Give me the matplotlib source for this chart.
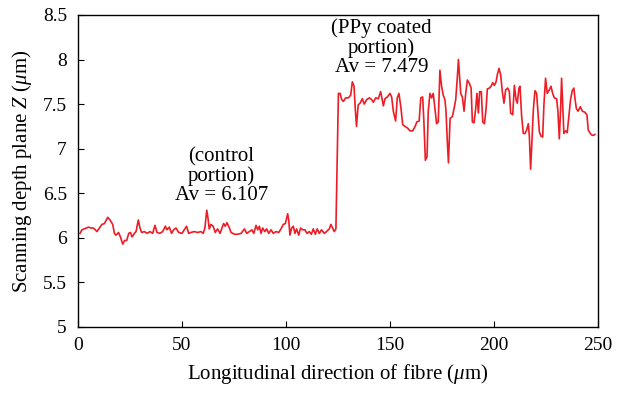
import matplotlib.pyplot as plt

plt.rcParams['font.family'] = 'Liberation Serif'
plt.rcParams['mathtext.fontset'] = 'custom'
plt.rcParams['mathtext.rm'] = 'Liberation Serif'
plt.rcParams['mathtext.it'] = 'Liberation Serif:italic'

# control portion (0 - 124 um)
x_ctrl = [1.0, 1.9, 3.0, 4.2, 5.1, 6.2, 7.4, 8.3, 9.1, 10.3, 11.5, 12.7, 14.3, 15.4, 16.7,
          17.5, 18.3, 19.5, 20.4, 21.5, 22.4, 23.4, 24.4, 25.2, 26.0, 27.1, 27.9, 29.0, 29.8,
          30.6, 31.9, 33.2, 34.6, 35.9, 37.0, 38.0, 39.4, 40.7, 42.0, 42.8, 43.9, 45.0, 46.0,
          47.1, 48.4, 50.0, 51.1, 52.2, 53.2, 54.3, 55.9, 57.5, 59.1, 60.2, 61.0, 61.9, 62.5,
          63.1, 63.9, 65.0, 66.0, 67.1, 68.3, 69.2, 70.0, 70.8, 71.6, 72.8, 73.6, 75.2, 76.7,
          78.4, 80.0, 81.1, 82.4, 83.6, 84.5, 85.6, 86.4, 87.2, 88.0, 88.8, 89.8, 90.7, 91.7,
          92.8, 93.9, 95.2, 96.5, 97.6, 98.7, 99.7, 100.8, 101.3, 101.9, 102.7, 103.5, 104.3,
          105.1, 106.1, 107.0, 108.0, 109.1, 110.1, 111.2, 112.2, 113.1, 114.1, 115.0, 116.0,
          117.1, 118.4, 119.5, 120.8, 121.6, 122.4, 123.2, 124.0]
z_ctrl = [6.05, 6.09, 6.10, 6.11, 6.12, 6.11, 6.11, 6.09, 6.07, 6.11, 6.15, 6.16, 6.23, 6.20, 6.15,
          6.05, 6.03, 6.06, 6.01, 5.93, 5.97, 5.97, 6.05, 6.06, 6.01, 6.05, 6.07, 6.20, 6.11,
          6.06, 6.07, 6.05, 6.07, 6.05, 6.14, 6.06, 6.05, 6.07, 6.13, 6.09, 6.12, 6.05, 6.09,
          6.11, 6.06, 6.05, 6.09, 6.13, 6.05, 6.06, 6.07, 6.06, 6.07, 6.05, 6.11, 6.31, 6.22,
          6.10, 6.15, 6.13, 6.06, 6.10, 6.05, 6.11, 6.16, 6.13, 6.17, 6.11, 6.06, 6.04, 6.04,
          6.05, 6.10, 6.05, 6.07, 6.09, 6.05, 6.14, 6.09, 6.13, 6.05, 6.11, 6.07, 6.10, 6.05,
          6.09, 6.05, 6.07, 6.06, 6.10, 6.15, 6.16, 6.27, 6.20, 6.03, 6.11, 6.13, 6.05,
          6.10, 6.03, 6.11, 6.09, 6.09, 6.05, 6.07, 6.04, 6.10, 6.04, 6.10, 6.05,
          6.09, 6.05, 6.07, 6.10, 6.15, 6.11, 6.07, 6.10]

# PPy coated portion (125 - 249 um)
x_ppy = [125.2, 126.0, 126.8, 127.6, 128.7, 130.0, 131.1, 131.9, 132.7, 133.3, 133.9, 134.7,
         135.6, 136.7, 137.6, 138.8, 140.1, 141.2, 142.0, 143.1, 144.4, 145.5, 146.1, 146.8,
         147.6, 148.7, 150.0, 150.8, 151.6, 152.7, 153.5, 154.3, 155.3, 156.1, 157.2, 158.5,
         159.6, 160.9, 162.1, 162.9, 164.0, 164.8, 165.7, 166.3, 167.0, 167.8, 168.4, 169.2,
         170.0, 170.8, 171.6, 172.4, 173.2, 174.0, 174.8, 175.6, 176.4, 176.9, 177.6, 178.1,
         178.9, 180.0, 180.8, 181.6, 182.4, 182.9, 183.4, 184.0, 184.8, 185.6, 186.4, 187.2,
         188.2, 189.0, 189.6, 190.4, 191.2, 191.8, 192.5, 193.1, 193.9, 194.6, 195.4, 196.2,
         196.8, 197.8, 198.6, 199.4, 200.2, 201.0, 201.6, 202.4, 203.2, 204.0, 204.8, 205.6,
         206.6, 207.4, 208.0, 209.0, 209.8, 210.6, 211.2, 212.0, 212.5, 213.3, 214.1, 214.9,
         215.7, 216.5, 217.0, 217.6, 218.2, 218.9, 219.7, 220.5, 221.3, 221.8, 222.6, 223.4,
         224.0, 224.8, 225.6, 226.6, 227.4, 228.2, 229.0, 230.1, 230.7, 231.4, 232.0, 232.5,
         233.0, 233.6, 234.4, 235.2, 236.0, 236.8, 237.6, 238.4, 239.0, 239.6, 240.4, 241.5,
         242.5, 243.6, 244.7, 245.3, 246.3, 247.2, 247.9, 248.5]
z_ppy = [7.62, 7.62, 7.55, 7.53, 7.57, 7.57, 7.60, 7.75, 7.70, 7.45, 7.25, 7.49,
         7.51, 7.56, 7.50, 7.55, 7.57, 7.55, 7.52, 7.57, 7.56, 7.64, 7.57, 7.48,
         7.56, 7.58, 7.62, 7.58, 7.42, 7.31, 7.57, 7.62, 7.45, 7.27, 7.25, 7.23,
         7.20, 7.20, 7.25, 7.30, 7.31, 7.57, 7.58, 7.30, 6.87, 6.91, 7.42, 7.62,
         7.57, 7.62, 7.45, 7.28, 7.30, 7.88, 7.70, 7.60, 7.55, 7.43, 7.06, 6.84,
         7.34, 7.36, 7.45, 7.55, 7.81, 8.00, 7.83, 7.62, 7.58, 7.42, 7.62, 7.77,
         7.73, 7.68, 7.30, 7.29, 7.45, 7.62, 7.40, 7.64, 7.64, 7.30, 7.28, 7.45,
         7.67, 7.68, 7.70, 7.74, 7.71, 7.75, 7.83, 7.90, 7.83, 7.64, 7.51, 7.66,
         7.68, 7.64, 7.40, 7.38, 7.71, 7.55, 7.51, 7.68, 7.70, 7.36, 7.17, 7.17,
         7.21, 7.28, 7.14, 6.77, 7.06, 7.43, 7.65, 7.62, 7.36, 7.19, 7.14, 7.13,
         7.49, 7.79, 7.62, 7.66, 7.70, 7.62, 7.57, 7.56, 7.43, 7.11, 7.43, 7.79,
         7.51, 7.17, 7.20, 7.18, 7.36, 7.55, 7.65, 7.68, 7.55, 7.45, 7.42, 7.47,
         7.42, 7.41, 7.38, 7.21, 7.17, 7.15, 7.15, 7.16]

x = x_ctrl + x_ppy
z = z_ctrl + z_ppy

fig = plt.figure(figsize=(6.22, 3.95), dpi=100)
ax = fig.add_axes([0.1254, 0.1722, 0.836, 0.79])
ax.plot(x, z, color='#ee1c25', linewidth=1.2)

ax.set_xlim(0, 250)
ax.set_ylim(5, 8.5)
ax.set_xticks([0, 50, 100, 150, 200, 250])
ax.set_yticks([5, 5.5, 6, 6.5, 7, 7.5, 8, 8.5])
ax.set_yticklabels(['5', '5.5', '6', '6.5', '7', '7.5', '8', '8.5'])
ax.tick_params(direction='in', labelsize=14, length=4)
ax.tick_params(axis='y', pad=8)
ax.tick_params(axis='x', pad=7)
for s in ax.spines.values():
    s.set_linewidth(1.0)

ax.set_xlabel(r'Longitudinal direction of fibre ($\mu$m)', fontsize=15, labelpad=6)
ax.set_ylabel(r'Scanning depth plane $Z$ ($\mu$m)', fontsize=15, labelpad=6)

ax.text(69, 6.69, '(control\nportion)\nAv = 6.107', ha='center', va='center',
        fontsize=15, linespacing=1.0)
ax.text(146, 8.13, '(PPy coated\nportion)\nAv = 7.479', ha='center', va='center',
        fontsize=15, linespacing=1.0)

fig.savefig('out.png', dpi=100)
